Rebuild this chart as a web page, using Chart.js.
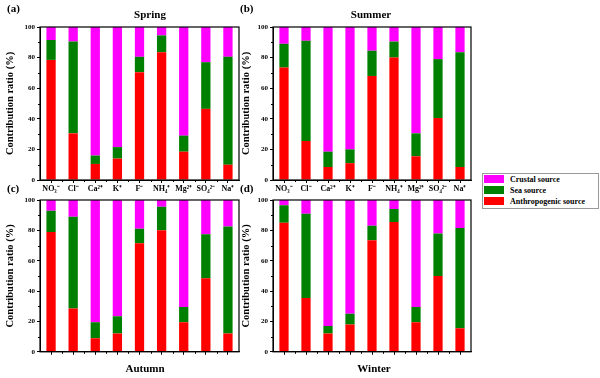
<!DOCTYPE html>
<html>
<head>
<meta charset="utf-8">
<script src="https://cdn.jsdelivr.net/npm/chart.js@4"></script>
<style>
  body { margin: 0; background: #fff; }
  #wrap { position: relative; width: 600px; height: 378px; font-family: "Liberation Serif", serif; font-weight: bold; }
  canvas { position: absolute; }
  .lbl { position: absolute; font-size: 11px; color: #000; white-space: nowrap; }
  .ttl { position: absolute; font-size: 11px; color: #000; transform: translateX(-50%); white-space: nowrap; }
  #legend { position: absolute; left: 482px; top: 173px; width: 115px; height: 34px; border: 1px solid #999; background: #fff; }
  #legend div { height: 11px; line-height: 11px; font-size: 8px; margin-left: 1px; }
  #legend span { display: inline-block; width: 20px; height: 8px; margin-right: 6px; vertical-align: -1px; }
</style>
</head>
<body>
<div id="wrap">
  <canvas id="cA" style="left:4px;top:0" width="241" height="200"></canvas>
  <canvas id="cB" style="left:240px;top:0" width="237" height="200"></canvas>
  <canvas id="cC" style="left:4px;top:180px" width="241" height="178"></canvas>
  <canvas id="cD" style="left:240px;top:180px" width="237" height="178"></canvas>

  <div class="lbl" style="left:7px;top:2px">(a)</div>
  <div class="lbl" style="left:240px;top:2px">(b)</div>
  <div class="lbl" style="left:7px;top:182px">(c)</div>
  <div class="lbl" style="left:240px;top:182px">(d)</div>

  <div class="ttl" style="left:150px;top:8px">Spring</div>
  <div class="ttl" style="left:371px;top:8px">Summer</div>
  <div class="ttl" style="left:145px;top:362px">Autumn</div>
  <div class="ttl" style="left:374px;top:362px">Winter</div>

  <div id="legend">
    <div><span style="background:#ff00ff"></span>Crustal source</div>
    <div><span style="background:#008000"></span>Sea source</div>
    <div><span style="background:#ff0000"></span>Anthropogenic source</div>
  </div>
</div>

<script>
const categories = ['NO₃⁻', 'Cl⁻', 'Ca²⁺', 'K⁺', 'F⁻', 'NH₄⁺', 'Mg²⁺', 'SO₄²⁻', 'Na⁺'];

// contribution ratio (%) per source, one list per season
const springAnthro = [78.5, 30.5, 10.5, 14, 70.5, 83.5, 18.5, 46.5, 10];
const springSea    = [13, 60, 5.5, 7.5, 10, 11, 10.5, 30.5, 70.5];
const springCrust  = [8.5, 9.5, 84, 78.5, 19.5, 5.5, 71, 23, 19.5];

const summerAnthro = [73.5, 25.5, 8.5, 11, 68, 80, 15.5, 40.5, 8.5];
const summerSea    = [15.5, 65.5, 10, 9, 16.5, 10.5, 15, 38.5, 75];
const summerCrust  = [11, 9, 81.5, 80, 15.5, 9.5, 69.5, 21, 16.5];

const autumnAnthro = [79, 28.5, 9, 12, 71.5, 80, 19.5, 48.5, 12];
const autumnSea    = [14, 60.5, 10.5, 11.5, 9.5, 15.5, 10, 29, 70.5];
const autumnCrust  = [7, 11, 80.5, 76.5, 19, 4.5, 70.5, 22.5, 17.5];

const winterAnthro = [85, 35.5, 12, 18, 73.5, 85.5, 19.5, 50, 15.5];
const winterSea    = [11.5, 55.5, 5, 7, 9.5, 8.5, 10, 28, 66];
const winterCrust  = [3.5, 9, 83, 75, 17, 6, 70.5, 22, 18.5];

const yMinor = [10, 30, 50, 70, 90];

const SERIF = '"Liberation Serif", "Times New Roman", serif';

// box around the plot area + the short minor ticks
const framePlugin = {
  id: 'frame',
  afterDraw(chart) {
    const { ctx, chartArea: a, scales } = chart;
    ctx.save();
    ctx.strokeStyle = '#000';
    ctx.lineWidth = 1.2;
    ctx.strokeRect(a.left, a.top, a.right - a.left, a.bottom - a.top);
    ctx.lineWidth = 1;
    ctx.beginPath();
    yMinor.forEach(v => {
      const y = Math.round(scales.y.getPixelForValue(v)) + 0.5;
      ctx.moveTo(a.left - 2, y);
      ctx.lineTo(a.left, y);
    });
    for (let i = 0; i < categories.length - 1; i++) {
      const x = Math.round((scales.x.getPixelForValue(i) + scales.x.getPixelForValue(i + 1)) / 2) + 0.5;
      ctx.moveTo(x, a.bottom);
      ctx.lineTo(x, a.bottom + 2);
    }
    ctx.stroke();
    ctx.restore();
  }
};

function makePanel(id, anthro, sea, crust, showLabels, padTop, yWidth) {
  const bar = { barPercentage: 0.42, categoryPercentage: 1, borderWidth: 0 };
  new Chart(document.getElementById(id), {
    type: 'bar',
    data: {
      labels: categories,
      datasets: [
        { label: 'Anthropogenic source', data: anthro, backgroundColor: '#ff0000', ...bar },
        { label: 'Sea source', data: sea, backgroundColor: '#008000', ...bar },
        { label: 'Crustal source', data: crust, backgroundColor: '#ff00ff', ...bar }
      ]
    },
    options: {
      responsive: false,
      animation: false,
      layout: { padding: { top: padTop, right: 6, left: 0, bottom: 0 } },
      plugins: { legend: { display: false }, tooltip: { enabled: false } },
      scales: {
        x: {
          stacked: true,
          grid: { display: true, drawOnChartArea: false, offset: false, color: '#000', tickLength: 3 },
          border: { display: true, color: '#000', width: 1 },
          ticks: {
            display: showLabels,
            color: '#000',
            padding: 1,
            maxRotation: 0,
            autoSkip: false,
            font: { family: SERIF, weight: 'bold', size: 8 }
          },
          afterFit: s => { s.height = showLabels ? 20 : 5; }
        },
        y: {
          stacked: true,
          min: 0,
          max: 100,
          grid: { drawOnChartArea: false, color: '#000', tickLength: 3 },
          border: { display: true, color: '#000', width: 1 },
          ticks: {
            stepSize: 20,
            color: '#000',
            padding: 2,
            font: { family: SERIF, weight: 'bold', size: 7 }
          },
          title: {
            display: true,
            text: 'Contribution ratio (%)',
            color: '#000',
            padding: { top: 0, bottom: 4 },
            font: { family: SERIF, weight: 'bold', size: 10.5 }
          },
          afterFit: s => { s.width = yWidth; }
        }
      }
    },
    plugins: [framePlugin]
  });
}

makePanel('cA', springAnthro, springSea, springCrust, true, 27, 36);
makePanel('cB', summerAnthro, summerSea, summerCrust, true, 27, 33);
makePanel('cC', autumnAnthro, autumnSea, autumnCrust, false, 20, 36);
makePanel('cD', winterAnthro, winterSea, winterCrust, false, 20, 33);
</script>
</body>
</html>
